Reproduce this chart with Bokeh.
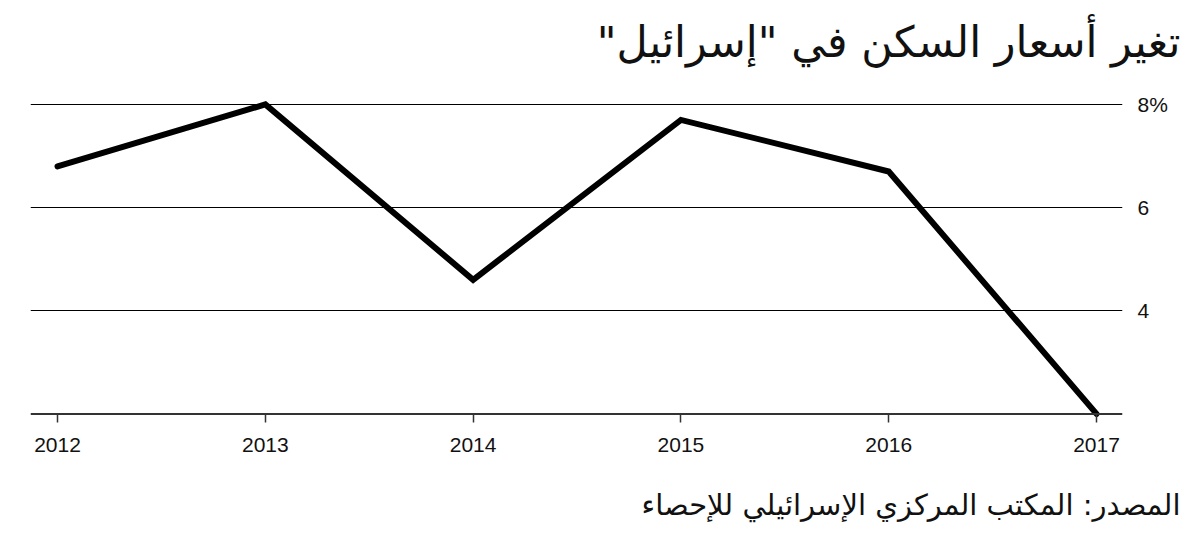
from bokeh.plotting import figure
from bokeh.layouts import column
from bokeh.models import Range1d, FixedTicker, Span
from bokeh.core.properties import value
from bokeh.embed import file_html
from bokeh.resources import INLINE

years = [2012, 2013, 2014, 2015, 2016, 2017]
values = [6.8, 8.0, 4.6, 7.7, 6.7, 2.0]
y_ticks = [4, 6, 8]
y_tick_labels = ["4", "6", "8%"]
title_text = 'تغير أسعار السكن في "إسرائيل"'
source_text = "المصدر: المكتب المركزي الإسرائيلي للإحصاء"
baseline_value = 2.0

RLM = "\u200f"
W = 1184
TITLE_H, MAIN_H, SRC_H = 90, 390, 56


def text_strip(height, text, size, baseline_y):
    f = figure(width=W, height=height, output_backend="svg", toolbar_location=None,
               x_range=Range1d(0, W), y_range=Range1d(height, 0),
               x_axis_type=None, y_axis_type=None, frame_align=False,
               min_border=0, min_border_left=0, min_border_right=0,
               min_border_top=0, min_border_bottom=0)
    f.outline_line_color = None
    f.background_fill_color = "white"
    f.border_fill_color = "white"
    f.text(x=[W - 4], y=[baseline_y], text=[RLM + text + RLM],
           text_align="right", text_baseline="alphabetic",
           text_font=value("DejaVu Sans"), text_font_size=size, text_color="#111111")
    return f


p_title = text_strip(TITLE_H, title_text, "43px", 41)

p = figure(width=W, height=MAIN_H, output_backend="svg", toolbar_location=None,
           x_range=Range1d(2011.870, 2017.125), y_range=Range1d(1.93, 8.27),
           y_axis_location="right", frame_align=False,
           min_border_left=30, min_border_right=62,
           min_border_top=0, min_border_bottom=63)
p.outline_line_color = None
p.background_fill_color = "white"
p.border_fill_color = "white"

p.line(years, values, line_color="black", line_width=6, line_join="miter", line_cap="round")

p.add_layout(Span(location=baseline_value, dimension="width", line_color="#333333", line_width=2))

p.xgrid.visible = False
p.ygrid.ticker = FixedTicker(ticks=y_ticks)
p.ygrid.grid_line_color = "black"
p.ygrid.grid_line_width = 1.2

xa = p.xaxis[0]
xa.ticker = FixedTicker(ticks=years)
xa.major_label_overrides = {y: str(y) for y in years}
xa.axis_line_color = None
xa.major_tick_line_color = "#333333"
xa.major_tick_line_width = 1.5
xa.major_tick_in = 4
xa.major_tick_out = 5
xa.minor_tick_line_color = None
xa.major_label_text_font = "Liberation Sans"
xa.major_label_text_font_size = "21px"
xa.major_label_text_color = "#111111"
xa.major_label_standoff = 15

ya = p.yaxis[0]
ya.ticker = FixedTicker(ticks=y_ticks)
ya.major_label_overrides = {t: l for t, l in zip(y_ticks, y_tick_labels)}
ya.axis_line_color = None
ya.major_tick_line_color = None
ya.minor_tick_line_color = None
ya.major_label_text_font = "Liberation Sans"
ya.major_label_text_font_size = "21px"
ya.major_label_text_color = "#111111"
ya.major_label_standoff = 9

p_src = text_strip(SRC_H, source_text, "29px", 24)

layout = column(p_title, p, p_src, spacing=0)
open("out.html", "w").write(file_html(layout, INLINE))
